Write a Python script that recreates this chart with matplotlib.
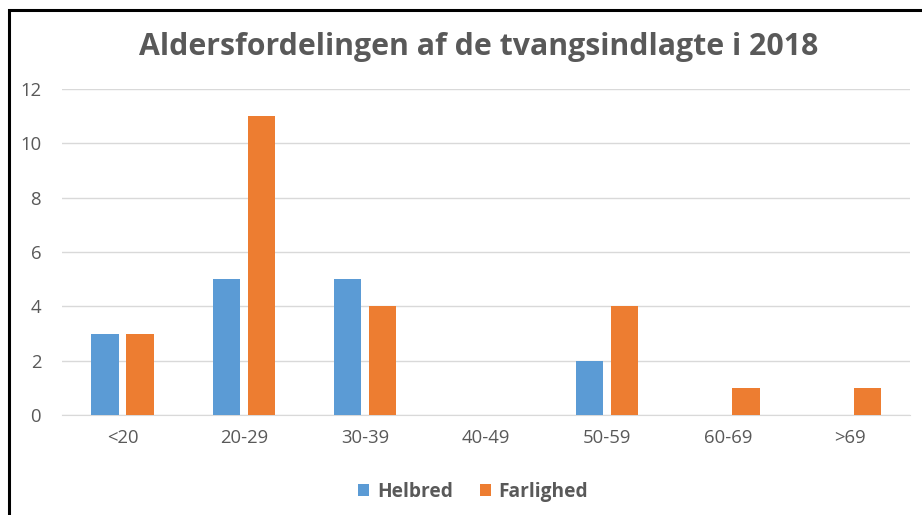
import numpy as np
import matplotlib
matplotlib.use("Agg")
import matplotlib.pyplot as plt
from matplotlib.patches import Rectangle

categories = ["<20", "20-29", "30-39", "40-49", "50-59", "60-69", ">69"]
helbred = [3, 5, 5, 0, 2, 0, 0]
farlighed = [3, 11, 4, 0, 4, 1, 1]
title = "Aldersfordelingen af de tvangsindlagte i 2018"

plt.rcParams["font.family"] = ["Open Sans", "DejaVu Sans"]
GREY = "#595959"

fig = plt.figure(figsize=(9.22, 5.15), dpi=100)
ax = fig.add_axes([0.0672, 0.194, 0.92, 0.633])

x = np.arange(len(categories))
w = 0.225
ax.bar(x - 0.145, helbred, w, color="#5B9BD5", label="Helbred", zorder=3)
ax.bar(x + 0.145, farlighed, w, color="#ED7D31", label="Farlighed", zorder=3)

ax.set_xlim(-0.5, len(categories) - 0.5)
ax.set_ylim(0, 12)
ax.set_yticks(range(0, 13, 2))
ax.set_xticks(x)
ax.set_xticklabels(categories)
ax.grid(axis="y", color="#D9D9D9", linewidth=1, zorder=0)
for s in ["top", "right", "left"]:
    ax.spines[s].set_visible(False)
ax.spines["bottom"].set_color("#D9D9D9")
ax.tick_params(length=0, colors=GREY, labelsize=13.3)
ax.tick_params(axis="y", pad=15)
ax.tick_params(axis="x", pad=10)

fig.text(0.519, 0.908, title, ha="center", va="center", fontsize=21.8,
         fontweight="bold", color=GREY)

fig.legend(loc="center", bbox_to_anchor=(0.513, 0.045), ncol=2, frameon=False,
           fontsize=13.8, labelcolor=GREY, handlelength=0.6, handleheight=0.6,
           columnspacing=1.4, handletextpad=0.4)
for t in fig.legends[0].get_texts():
    t.set_fontweight("bold")

# black frame (cropped on right/bottom)
fig.patches.append(Rectangle((0.0098, -0.1), 1.2, 1.0806, transform=fig.transFigure,
                             fill=False, edgecolor="black", linewidth=2.2))

fig.savefig("out.png", dpi=100)
